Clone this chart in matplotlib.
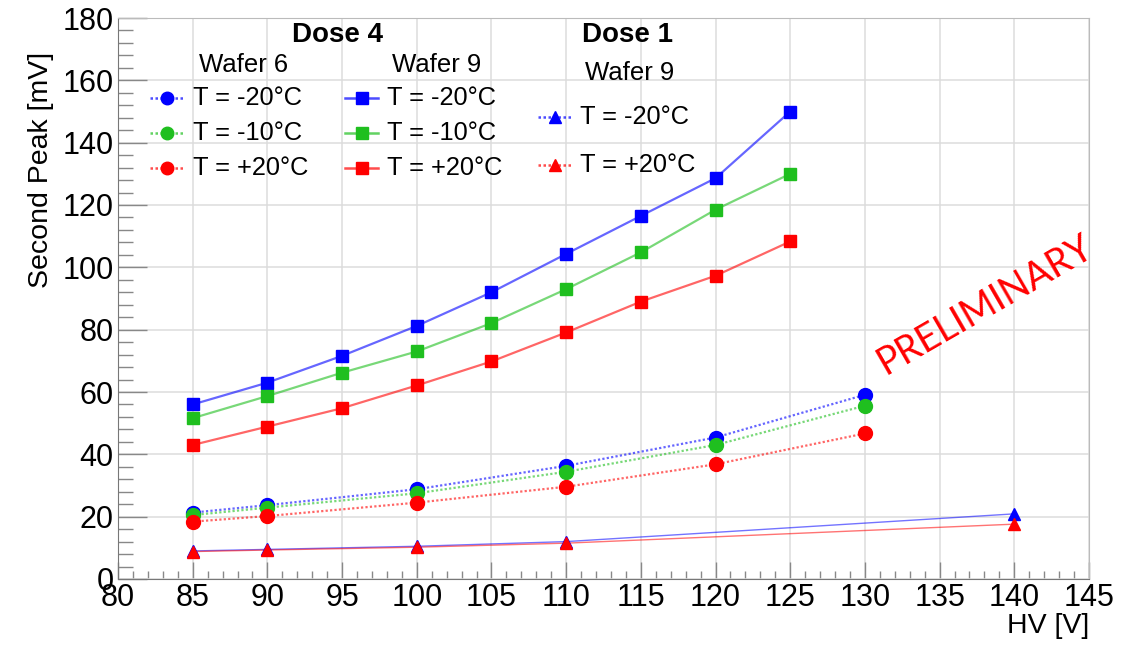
import matplotlib
matplotlib.use("Agg")
import matplotlib.pyplot as plt
from matplotlib.ticker import MultipleLocator

plt.rcParams["font.family"] = ["Liberation Sans", "DejaVu Sans"]

# Dose 4, wafer 9 (full HV scan)
hv_w9 = [85, 90, 95, 100, 105, 110, 115, 120, 125]
w9_m20 = [56.0, 63.0, 71.6, 81.2, 92.0, 104.3, 116.5, 128.6, 150.0]
w9_m10 = [51.6, 58.7, 66.2, 73.0, 82.1, 93.0, 104.8, 118.5, 130.0]
w9_p20 = [43.0, 48.9, 54.8, 62.1, 69.8, 79.1, 89.0, 97.3, 108.3]

# Dose 4, wafer 6
hv_w6 = [85, 90, 100, 110, 120, 130]
w6_m20 = [21.3, 23.7, 28.8, 36.3, 45.4, 59.1]
w6_m10 = [20.5, 22.9, 27.5, 34.4, 43.0, 55.6]
w6_p20 = [18.4, 20.2, 24.5, 29.6, 36.8, 46.7]

# Dose 1, wafer 9
hv_d1 = [85, 90, 100, 110, 140]
d1_m20 = [9.0, 9.5, 10.5, 12.0, 20.9]
d1_p20 = [8.8, 9.3, 10.2, 11.5, 17.6]

BLUE = "#0000ff"
GREEN = "#1fbf1f"
RED = "#ff0000"
DOT = (0, (1, 1))

fig = plt.figure(figsize=(11.33, 6.47), dpi=100)
W, H = 1133, 647
ax = fig.add_axes([118 / W, 1 - 579 / H, (1089 - 118) / W, (579 - 18) / H])

# dose 1 triangles: thin lines
for y, c in [(d1_m20, BLUE), (d1_p20, RED)]:
    ax.plot(hv_d1, y, "-", color=c, lw=1.0, alpha=0.55, zorder=3)
    ax.plot(hv_d1, y, "^", color=c, ms=9, ls="none", zorder=4)

# wafer 6 circles: dotted lines
for y, c in [(w6_m20, BLUE), (w6_m10, GREEN), (w6_p20, RED)]:
    ax.plot(hv_w6, y, ls=DOT, color=c, lw=1.6, alpha=0.6, zorder=3)
    ax.plot(hv_w6, y, "o", color=c, ms=10, ls="none", zorder=4)

# wafer 9 squares: solid lines
for y, c in [(w9_m20, BLUE), (w9_m10, GREEN), (w9_p20, RED)]:
    ax.plot(hv_w9, y, "-", color=c, lw=1.6, alpha=0.6, zorder=3)
    ax.plot(hv_w9, y, "s", color=c, ms=9, ls="none", zorder=4)

ax.set_xlim(80, 145)
ax.set_ylim(0, 180)
ax.xaxis.set_major_locator(MultipleLocator(5))
ax.xaxis.set_minor_locator(MultipleLocator(1))
ax.yaxis.set_major_locator(MultipleLocator(20))
ax.yaxis.set_minor_locator(MultipleLocator(4))
ax.grid(True, which="major", color="#dcdcdc", lw=1.1, zorder=0)
ax.tick_params(axis="x", which="major", direction="in", length=12, width=1, color="#888888",
               labelsize=22, pad=3)
ax.tick_params(axis="x", which="minor", direction="in", length=6, width=1, color="#888888")
ax.tick_params(axis="y", which="major", direction="in", length=21, width=1, color="#888888",
               labelsize=22, pad=3)
ax.tick_params(axis="y", which="minor", direction="in", length=10.5, width=1, color="#888888")
for s in ["left", "bottom"]:
    ax.spines[s].set_color("#777777")
for s in ["top", "right"]:
    ax.spines[s].set_color("#bbbbbb")

ax.set_xlabel("HV [V]", fontsize=20.5, loc="right", labelpad=0)
ax.set_ylabel("Second Peak [mV]", fontsize=20.5)
ax.yaxis.set_label_coords(-0.066, 0.73)


def px(x, y):
    return (x - 118) / 971, (579 - y) / 561


def entry(x0, x1, y, color, ls, marker, label):
    a, b = px(x0, y)
    c, _ = px(x1, y)
    ax.plot([a, c], [b, b], ls=ls, color=color, lw=1.8, alpha=0.7,
            transform=ax.transAxes, clip_on=False, zorder=5)
    ax.plot([(a + c) / 2], [b], marker=marker, color=color, ms=9,
            transform=ax.transAxes, clip_on=False, zorder=6)
    tx, _ = px(x1 + 9, y)
    ax.text(tx, b, label, transform=ax.transAxes, fontsize=18.3,
            ha="left", va="center", zorder=6)


def header(x, y, text, size, bold=False):
    a, b = px(x, y)
    ax.text(a, b, text, transform=ax.transAxes, fontsize=size, ha="center",
            va="center", fontweight="bold" if bold else "normal")


header(337, 35, "Dose 4", 20, bold=True)
header(627, 35, "Dose 1", 20, bold=True)
header(244, 65, "Wafer 6", 18.5)
header(437, 65, "Wafer 9", 18.5)
header(630, 73, "Wafer 9", 18.5)

labels3 = ["T = -20\u00b0C", "T = -10\u00b0C", "T = +20\u00b0C"]
for yy, c, lab in zip([98, 133, 168], [BLUE, GREEN, RED], labels3):
    entry(150, 184, yy, c, DOT, "o", lab)
    entry(345, 378, yy, c, "-", "s", lab)
for yy, c, lab in zip([117, 165], [BLUE, RED], [labels3[0], labels3[2]]):
    entry(538, 571, yy, c, DOT, "^", lab)

a, b = px(985, 305)
ax.text(a, b, "PRELIMINARY", transform=ax.transAxes, fontsize=27, color="red",
        rotation=30, ha="center", va="center", family=["Lato", "DejaVu Sans"])

fig.savefig("out.png", dpi=100)
